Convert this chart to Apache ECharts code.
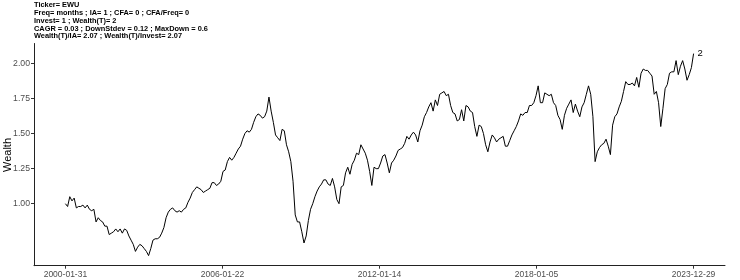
<!DOCTYPE html>
<html><head><meta charset="utf-8">
<script src="https://cdn.jsdelivr.net/npm/echarts@6/dist/echarts.min.js"></script>
<style>html,body{margin:0;padding:0;background:#fff}#c{width:740px;height:280px}</style>
</head><body><div id="c"></div>
<script>
// ---- data (monthly wealth, 2000-01 .. 2023-12) ----
const wealth = [
  1.00, 0.98, 1.05, 1.02, 1.04, 0.97, 0.98, 0.98, 0.99, 0.97, 0.99, 0.96,
  0.95, 0.96, 0.87, 0.90, 0.88, 0.87, 0.84, 0.84, 0.78, 0.79, 0.80, 0.82,
  0.80, 0.82, 0.79, 0.82, 0.81, 0.77, 0.74, 0.71, 0.66, 0.69, 0.71, 0.70,
  0.68, 0.66, 0.63, 0.68, 0.74, 0.75, 0.75, 0.76, 0.79, 0.83, 0.90, 0.94,
  0.96, 0.97, 0.95, 0.94, 0.95, 0.94, 0.96, 0.97, 1.01, 1.04, 1.08, 1.10,
  1.12, 1.11, 1.10, 1.08, 1.09, 1.10, 1.11, 1.15, 1.15, 1.13, 1.14, 1.16,
  1.23, 1.24, 1.30, 1.33, 1.31, 1.33, 1.36, 1.39, 1.41, 1.46, 1.50, 1.52,
  1.51, 1.53, 1.58, 1.62, 1.64, 1.63, 1.61, 1.62, 1.66, 1.76, 1.66, 1.58,
  1.49, 1.47, 1.45, 1.53, 1.52, 1.42, 1.37, 1.30, 1.16, 0.92, 0.87, 0.87,
  0.80, 0.72, 0.77, 0.88, 0.96, 1.00, 1.05, 1.09, 1.12, 1.14, 1.17, 1.17,
  1.14, 1.13, 1.18, 1.12, 1.03, 1.00, 1.12, 1.13, 1.22, 1.26, 1.21, 1.28,
  1.31, 1.36, 1.35, 1.42, 1.39, 1.36, 1.31, 1.23, 1.13, 1.26, 1.25, 1.25,
  1.29, 1.34, 1.35, 1.29, 1.22, 1.29, 1.31, 1.34, 1.38, 1.39, 1.40, 1.43,
  1.48, 1.46, 1.49, 1.51, 1.49, 1.44, 1.52, 1.56, 1.62, 1.65, 1.69, 1.72,
  1.66, 1.74, 1.70, 1.78, 1.79, 1.80, 1.77, 1.78, 1.70, 1.65, 1.64, 1.59,
  1.60, 1.67, 1.59, 1.70, 1.69, 1.66, 1.65, 1.55, 1.48, 1.56, 1.55, 1.50,
  1.42, 1.37, 1.44, 1.49, 1.47, 1.44, 1.46, 1.47, 1.48, 1.41, 1.41, 1.45,
  1.49, 1.52, 1.55, 1.59, 1.64, 1.63, 1.65, 1.65, 1.70, 1.70, 1.72, 1.77,
  1.84, 1.72, 1.72, 1.79, 1.78, 1.77, 1.78, 1.72, 1.70, 1.63, 1.60, 1.53,
  1.63, 1.68, 1.71, 1.74, 1.65, 1.71, 1.66, 1.62, 1.69, 1.72, 1.78, 1.84,
  1.78, 1.62, 1.30, 1.37, 1.40, 1.42, 1.43, 1.46, 1.41, 1.35, 1.56, 1.62,
  1.64, 1.69, 1.73, 1.80, 1.87, 1.85, 1.85, 1.86, 1.84, 1.90, 1.83, 1.93,
  1.96, 1.95, 1.95, 1.93, 1.91, 1.78, 1.80, 1.72, 1.55, 1.68, 1.82, 1.85,
  1.93, 1.94, 1.94, 2.02, 1.92, 1.98, 2.02, 1.96, 1.88, 1.92, 1.97, 2.07
];
const xTickLabels = ['2000-01-31', '2006-01-22', '2012-01-14', '2018-01-05', '2023-12-29'];
const xTickMonths = [0, 71.75, 143.5, 215.25, 287];
const yTicks = [1.00, 1.25, 1.50, 1.75, 2.00];
const yAxisTitle = 'Wealth';
const endLabelText = '2';
const titleLines = [
  'Ticker= EWU',
  'Freq= months ; IA= 1 ; CFA= 0 ; CFA/Freq= 0',
  'Invest= 1 ; Wealth(T)= 2',
  'CAGR = 0.03 ; DownStdev = 0.12 ; MaxDown = 0.6',
  'Wealth(T)/IA= 2.07 ; Wealth(T)/Invest= 2.07'
];

// ---- chart ----
const FONT = '"Liberation Sans", Arial, Helvetica, sans-serif';
const n = wealth.length;
const xMin = -(n - 1) * 0.05, xMax = (n - 1) * 1.05;
const lo = Math.min(...wealth), hi = Math.max(...wealth), r = hi - lo;
const yMin = lo - 0.05 * r, yMax = hi + 0.05 * r;

const chart = echarts.init(document.getElementById('c'), null, {renderer: 'canvas'});
chart.setOption({
  animation: false,
  backgroundColor: '#fff',
  title: {
    text: titleLines.join('\n'),
    left: 34, top: 1.5, padding: 0,
    textStyle: {fontFamily: FONT, fontSize: 7.4, fontWeight: 'bold', lineHeight: 7.75, color: '#000'}
  },
  graphic: [{
    type: 'text', x: 8, y: 155, rotation: Math.PI / 2, silent: true,
    style: {text: yAxisTitle, fontFamily: FONT, fontSize: 11, fill: '#000', align: 'center', verticalAlign: 'middle'}
  }],
  grid: {left: 34, right: 15, top: 43.5, bottom: 14.3, containLabel: false, outerBoundsMode: 'none'},
  xAxis: {
    type: 'value', min: xMin, max: xMax,
    splitLine: {show: false},
    axisLine: {show: true, onZero: false, lineStyle: {color: '#222', width: 1}},
    axisTick: {show: true, customValues: xTickMonths, length: 3, lineStyle: {color: '#333'}},
    axisLabel: {
      customValues: xTickMonths, margin: 4, color: '#4d4d4d', fontFamily: FONT, fontSize: 8.5,
      formatter: v => { const k = xTickMonths.findIndex(t => Math.abs(t - v) < 1e-6); return k >= 0 ? xTickLabels[k] : ''; }
    }
  },
  yAxis: {
    type: 'value', min: yMin, max: yMax,
    splitLine: {show: false},
    axisLine: {show: true, onZero: false, lineStyle: {color: '#222', width: 1}},
    axisTick: {show: true, customValues: yTicks, length: 3, lineStyle: {color: '#333'}},
    axisLabel: {
      customValues: yTicks, margin: 4, color: '#4d4d4d', fontFamily: FONT, fontSize: 8.7,
      formatter: v => v.toFixed(2)
    }
  },
  series: [{
    type: 'line',
    data: wealth.map((v, i) => [i, v]),
    showSymbol: false,
    lineStyle: {color: '#000', width: 1},
    endLabel: {show: true, formatter: () => endLabelText, distance: 4, color: '#000', fontFamily: FONT, fontSize: 9.5},
    silent: true
  }]
});
</script>
</body></html>
